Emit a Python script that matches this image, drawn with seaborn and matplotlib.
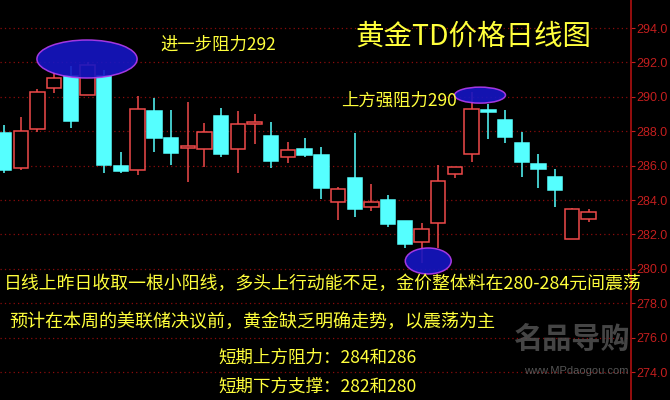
import numpy as np
import pandas as pd
import matplotlib.pyplot as plt
import seaborn as sns
from matplotlib.patches import Rectangle, Ellipse


# Datos de las velas diarias
opens  = [287.90, 285.87, 288.13, 290.51, 291.21, 290.11, 291.21, 285.98, 285.75, 289.18,
          287.61, 287.03, 286.97, 288.89, 286.97, 288.45, 287.72, 286.50, 286.97, 286.62,
          283.89, 285.28, 283.60, 284.01, 282.79, 281.57, 282.67, 285.52, 286.68, 289.24,
          288.65, 287.32, 286.10, 285.34, 281.74, 282.90]
closes = [285.75, 288.02, 290.28, 291.09, 288.60, 291.85, 286.04, 285.69, 289.29, 287.61,
          286.74, 287.14, 287.96, 286.68, 288.42, 288.51, 286.27, 286.91, 286.62, 284.70,
          284.64, 283.48, 283.89, 282.61, 281.45, 282.32, 285.11, 285.92, 289.29, 289.12,
          287.67, 286.21, 285.81, 284.59, 283.48, 283.31]
highs  = [288.36, 288.83, 290.46, 291.39, 291.79, 292.02, 291.56, 286.79, 290.05, 289.93,
          289.24, 289.70, 288.48, 289.35, 289.18, 289.00, 288.54, 287.38, 287.61, 287.09,
          284.76, 287.90, 284.94, 284.30, 282.79, 282.67, 286.04, 285.92, 290.28, 289.58,
          289.24, 287.96, 286.68, 285.81, 283.54, 283.48]
lows   = [285.57, 285.75, 287.96, 290.22, 288.19, 290.11, 285.57, 285.57, 285.46, 286.79,
          286.04, 285.05, 285.92, 286.50, 285.57, 287.26, 285.87, 286.16, 286.50, 284.06,
          282.84, 283.02, 283.37, 282.44, 281.22, 280.35, 281.22, 285.28, 286.21, 287.55,
          287.32, 285.34, 284.70, 283.60, 281.74, 282.73]

# Zonas marcadas (índice de vela, precio)
marca_x = [4.97, 28.5, 25.4]
marca_y = [292.2, 290.1, 280.46]

y_ticks = np.arange(274, 296, 2)

titulo = "黄金TD价格日线图"
nota_292 = "进一步阻力292"
nota_290 = "上方强阻力290"
lineas = ["日线上昨日收取一根小阳线，多头上行动能不足，金价整体料在280-284元间震荡",
          "预计在本周的美联储决议前，黄金缺乏明确走势，以震荡为主",
          "短期上方阻力：284和286",
          "短期下方支撑：282和280"]

df = pd.DataFrame({"open": opens, "high": highs, "low": lows, "close": closes})
df["x"] = np.arange(len(df))

# Estilo
sns.set_style("dark", rc={"axes.facecolor": "black", "figure.facecolor": "black"})
plt.rcParams["font.family"] = ["Noto Sans CJK SC", "DejaVu Sans"]

ROJO = "#f04a4a"
CIAN = "#55ffff"
AMARILLO = "#ffff3c"

fig = plt.figure(figsize=(6.7, 4), dpi=100, facecolor="black")
ax = fig.add_axes([0, 0, 631 / 670, 1])
ax.set_facecolor("black")

# Velas
ancho = 0.86
for _, r in df.iterrows():
    sube = r["close"] >= r["open"]
    color = ROJO if sube else CIAN
    ax.vlines(r["x"], r["low"], r["high"], color=color, lw=1.1, zorder=2)
    base = min(r["open"], r["close"])
    alto = max(abs(r["close"] - r["open"]), 0.03)
    ax.add_patch(Rectangle((r["x"] - ancho / 2, base), ancho, alto,
                           facecolor="black" if sube else CIAN,
                           edgecolor=color, lw=1.1, zorder=3))

# Elipses de resistencia / soporte
tamanos = [(6.0, 2.21), (3.05, 0.93), (2.75, 1.51)]
for (cx, cy), (w, h) in zip(zip(marca_x, marca_y), tamanos):
    ax.add_patch(Ellipse((cx, cy), w, h, facecolor="#1616c4", edgecolor="#b43cf0",
                         lw=1.1, alpha=0.9, zorder=4))

ax.set_xlim(-0.24, 37.54)
ax.set_ylim(272.38, 295.63)
ax.set_xticks([])
ax.set_yticks(y_ticks)
ax.set_yticklabels([f"{v:.1f}" for v in y_ticks], family="Liberation Sans",
                   fontsize=9, color="#c41e1e")
ax.yaxis.tick_right()
ax.tick_params(axis="y", colors="#c41e1e", length=3, width=0.8, pad=1,
               labelcolor="#c41e1e", right=True)
ax.grid(axis="y", color="#8a0c0c", linestyle=(0, (1, 2.5)), lw=0.9)
ax.grid(axis="x", visible=False)
for lado in ["top", "left", "bottom"]:
    ax.spines[lado].set_visible(False)
ax.spines["right"].set_color("#b01010")
ax.spines["right"].set_linewidth(1.2)

# Textos
def px(x, y):
    return x / 670, 1 - y / 400

fig.text(*px(473, 37), titulo, color=AMARILLO, fontsize=20.5, ha="center", va="center")
fig.text(*px(160, 45), nota_292, color=AMARILLO, fontsize=12.5, ha="left", va="center")
fig.text(*px(341, 101), nota_290, color=AMARILLO, fontsize=12.5, ha="left", va="center")
fig.text(*px(4, 284), lineas[0], color=AMARILLO, fontsize=12.85, ha="left", va="center")
fig.text(*px(9, 322), lineas[1], color=AMARILLO, fontsize=13.0, ha="left", va="center")
fig.text(*px(218, 358), lineas[2], color=AMARILLO, fontsize=12.6, ha="left", va="center")
fig.text(*px(218, 387), lineas[3], color=AMARILLO, fontsize=12.6, ha="left", va="center")

# Marca de agua
fig.text(*px(571, 339), "名品导购", color="#525252", fontsize=21, ha="center",
         va="center", fontweight="bold", alpha=0.85)
fig.text(*px(576, 371), "www.MPdaogou.com", color="#6a6a6a", fontsize=8,
         family="Liberation Sans", ha="center", va="center", alpha=0.8)

fig.savefig("out.png", dpi=100, facecolor="black")
